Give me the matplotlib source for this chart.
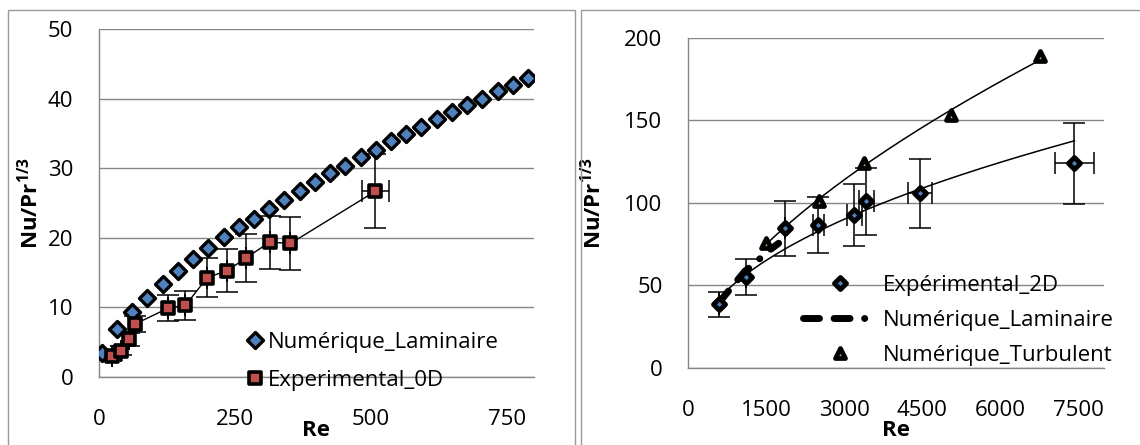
import matplotlib
matplotlib.use('Agg')
import matplotlib.pyplot as plt
from matplotlib.markers import MarkerStyle
from matplotlib.lines import Line2D
from matplotlib.patches import Rectangle
import numpy as np

plt.rcParams['font.family'] = ['Open Sans', 'DejaVu Sans']
plt.rcParams['mathtext.fontset'] = 'custom'
plt.rcParams['mathtext.rm'] = 'Open Sans'
plt.rcParams['mathtext.bf'] = 'Open Sans:bold'
FS = 16
plt.rcParams['font.size'] = FS

# --- left panel: 0D model ---
re_lam_0d = [5, 33, 61, 89, 117, 145, 173, 201, 229, 257, 285, 313, 341, 369, 397,
             425, 453, 481, 509, 537, 565, 593, 621, 649, 677, 705, 733, 761, 789]
nu_lam_0d = [3.4, 6.9, 9.4, 11.4, 13.4, 15.3, 17.0, 18.5, 20.1, 21.5, 22.7, 24.1, 25.5,
             26.7, 28.0, 29.3, 30.4, 31.6, 32.7, 33.9, 35.0, 36.0, 37.1, 38.1, 39.1,
             40.0, 41.1, 42.0, 43.0]

re_exp_0d = [23, 40, 55, 66, 127, 159, 199, 236, 270, 314, 352, 508]
nu_exp_0d = [3.0, 3.8, 5.4, 7.6, 9.9, 10.3, 14.3, 15.3, 17.1, 19.4, 19.2, 26.7]
yerr_exp_0d = [0.5, 0.6, 0.9, 1.2, 1.9, 2.05, 2.85, 3.1, 3.4, 3.8, 3.8, 5.3]
xerr_exp_0d = [0, 0, 0, 0, 0, 0, 0, 0, 0, 0, 0, 25]

# --- right panel: 2D model ---
re_exp_2d = [595, 1119, 1861, 2505, 3197, 3428, 4463, 7430]
nu_exp_2d = [38.4, 55.2, 84.5, 86.3, 92.6, 100.9, 105.8, 124.0]
yerr_exp_2d = [7.7, 10.8, 16.8, 17.0, 18.7, 20.4, 21.0, 24.6]
xerr_exp_2d = [0, 0, 0, 105, 143, 150, 227, 378]

re_lam_2d = [580, 840, 1090, 1290, 1510, 1740]
nu_lam_2d = [39, 49, 58.5, 63.5, 70, 75.5]

re_turb_2d = [1504, 2519, 3379, 5058, 6765]
nu_turb_2d = [75.4, 101.3, 124.0, 153.3, 189.1]

BLUE = '#4F81BD'
RED = '#C0504D'
GREEN = '#9BBB59'
GRID = '#868686'
FRAME = '#9A9A9A'
LAM_DASH = (0, (2.3, 2.1, 2.3, 2.1, 0.01, 2.1))


def power_fit(x, y):
    # power-law trendline, fitted in log-log space
    b, a = np.polyfit(np.log(x), np.log(y), 1)
    xs = np.linspace(min(x), max(x), 200)
    return xs, np.exp(a) * xs ** b


def style_axes(ax):
    for side in ['top', 'right']:
        ax.spines[side].set_visible(False)
    for side in ['left', 'bottom']:
        ax.spines[side].set_color(GRID)
        ax.spines[side].set_linewidth(1.0)
    ax.grid(axis='y', color=GRID, linewidth=1.0)
    ax.set_axisbelow(True)
    ax.tick_params(length=0, labelsize=FS, colors='black')
    ax.tick_params(axis='y', pad=18.5)
    ax.tick_params(axis='x', pad=23)


fig = plt.figure(figsize=(11.4, 4.45), dpi=100)

# chart frames
fig.patches.append(Rectangle((8 / 1140, -0.2), 567 / 1140, 1.2 - 10 / 445,
                             transform=fig.transFigure, fill=False,
                             edgecolor=FRAME, linewidth=1.0))
fig.patches.append(Rectangle((581 / 1140, -0.2), 0.6, 1.2 - 10 / 445,
                             transform=fig.transFigure, fill=False,
                             edgecolor=FRAME, linewidth=1.0))

# left chart
ax1 = fig.add_axes([99 / 1140, 1 - 377 / 445, 435 / 1140, 347.7 / 445])
style_axes(ax1)
diamond = MarkerStyle('D', joinstyle='round')
square = MarkerStyle('s', joinstyle='round')
lam_kw = dict(marker=diamond, ms=8.4, mfc=BLUE, mec='black', mew=2.4)
exp_kw = dict(marker=square, ms=9.0, mfc=RED, mec='black', mew=2.6)

ax1.errorbar(re_exp_0d, nu_exp_0d, yerr=yerr_exp_0d, xerr=xerr_exp_0d, fmt='none',
             ecolor='black', elinewidth=1.1, capsize=8, capthick=1.1, zorder=2)
ax1.plot(re_lam_0d, nu_lam_0d, linestyle='none', zorder=3, **lam_kw)
ax1.plot(re_exp_0d, nu_exp_0d, color='black', linewidth=1.0, zorder=4, **exp_kw)
ax1.set_xlim(0, 800)
ax1.set_ylim(0, 50)
ax1.set_xticks([0, 250, 500, 750])
ax1.set_yticks(range(0, 51, 10))
ax1.set_xlabel('Re', fontweight='bold', fontsize=FS)
ax1.xaxis.set_label_coords(0.5, -0.125)
ax1.set_ylabel(r'$\mathbf{Nu/Pr^{1/3}}$', fontsize=FS)
ax1.yaxis.set_label_coords(-0.129, 0.5)

h1 = [Line2D([], [], linestyle='none', **lam_kw),
      Line2D([], [], linestyle='none', **exp_kw)]
ax1.legend(h1, ['Numérique_Laminaire', 'Experimental_0D'], loc='upper left',
           bbox_to_anchor=(246 / 1140, 1 - 332 / 445), bbox_transform=fig.transFigure,
           frameon=False, handlelength=0.8, handletextpad=0.2, borderpad=0,
           borderaxespad=0, labelspacing=0.75, fontsize=FS)

# right chart
ax2 = fig.add_axes([688.2 / 1140, 1 - 367.7 / 445, 415.8 / 1140, 329.7 / 445])
style_axes(ax2)
exp2_kw = dict(marker=MarkerStyle('D', joinstyle='round'), ms=6.0,
               mfc=BLUE, mec='black', mew=3.5)
turb_kw = dict(marker=MarkerStyle('^', joinstyle='round'), ms=7.0,
               mfc=GREEN, mec='black', mew=3.4)
lam2_kw = dict(color='black', linewidth=5, linestyle=LAM_DASH, dash_capstyle='round')

ax2.plot(re_lam_2d, nu_lam_2d, zorder=3, **lam2_kw)
xs, ys = power_fit(re_exp_2d, nu_exp_2d)
ax2.plot(xs, ys, color='black', linewidth=1.1, zorder=2)
xs, ys = power_fit(re_turb_2d, nu_turb_2d)
ax2.plot(xs, ys, color='black', linewidth=1.1, zorder=2)
ax2.errorbar(re_exp_2d, nu_exp_2d, yerr=yerr_exp_2d, xerr=xerr_exp_2d, fmt='none',
             ecolor='black', elinewidth=1.1, capsize=8, capthick=1.1, zorder=4)
ax2.plot(re_exp_2d, nu_exp_2d, linestyle='none', zorder=5, **exp2_kw)
ax2.plot(re_turb_2d, nu_turb_2d, linestyle='none', zorder=5, **turb_kw)
ax2.set_xlim(0, 8000)
ax2.set_ylim(0, 200)
ax2.set_xticks([0, 1500, 3000, 4500, 6000, 7500])
ax2.set_yticks(range(0, 201, 50))
ax2.set_xlabel('Re', fontweight='bold', fontsize=FS)
ax2.xaxis.set_label_coords(0.5, -0.16)
ax2.set_ylabel(r'$\mathbf{Nu/Pr^{1/3}}$', fontsize=FS)
ax2.yaxis.set_label_coords(-0.198, 0.5)

h2 = [Line2D([], [], linestyle='none', **exp2_kw),
      Line2D([], [], **lam2_kw),
      Line2D([], [], linestyle='none', **turb_kw)]
ax2.legend(h2, ['Expérimental_2D', 'Numérique_Laminaire', 'Numérique_Turbulent'],
           loc='upper left', bbox_to_anchor=(803 / 1140, 1 - 275 / 445),
           bbox_transform=fig.transFigure, frameon=False, handlelength=3.35,
           handletextpad=0.25, borderpad=0, borderaxespad=0, labelspacing=0.62,
           fontsize=FS)

fig.savefig('out.png', dpi=100)
